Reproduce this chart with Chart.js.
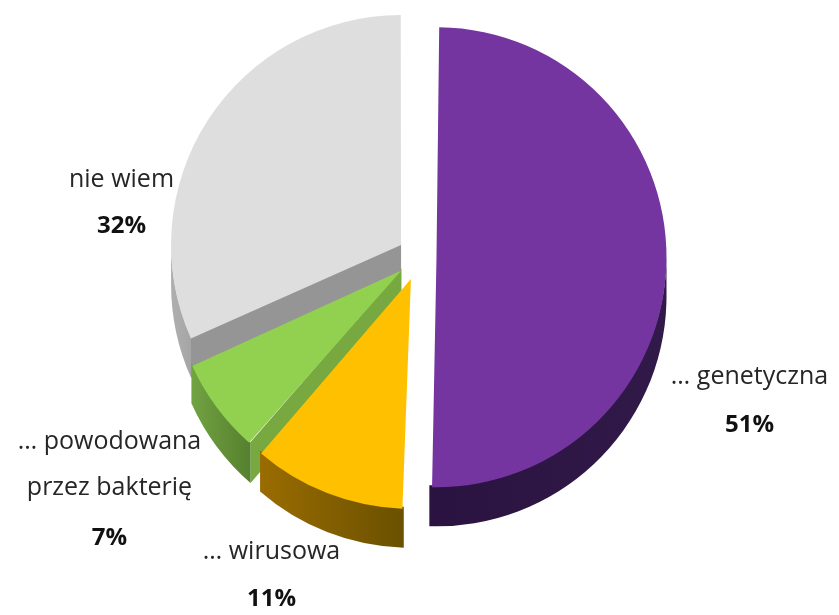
<!DOCTYPE html>
<html lang="pl">
<head>
<meta charset="utf-8">
<title>Przyczyna choroby</title>
<script src="https://cdn.jsdelivr.net/npm/chart.js@4.4.1/dist/chart.umd.min.js"></script>
<style>
  html, body { margin: 0; padding: 0; background: #fff; }
  #wrap { width: 839px; height: 615px; }
</style>
</head>
<body>
<div id="wrap"><canvas id="pie" width="839" height="615"></canvas></div>
<script>
  // ── DANE ──────────────────────────────────────────────
  var KATEGORIE = ['… genetyczna', '… wirusowa', '… powodowana przez bakterię', 'nie wiem'];
  var PODPISY   = [['… genetyczna'], ['… wirusowa'], ['… powodowana', 'przez bakterię'], ['nie wiem']];
  var PROCENTY  = [51, 11, 7, 32];

  // ── WYGLĄD ────────────────────────────────────────────
  var KOLOR_WIERZCH = ['#7535A0', '#FFC000', '#92D050', '#DEDEDE'];
  var KOLOR_CIECIE  = ['#2D1644', '#7A5A00', '#78A840', '#959595'];
  var KOLOR_BOK     = [['#2A1340', '#311949'], ['#9A6C00', '#6A5000'], ['#72A341', '#557F2E'], ['#AFAFAF', '#A5A5A5']];
  var WYSUNIECIE    = [17, 23.5, 22.5, 22];   // px odsunięcia wycinka od środka
  var GLEBOKOSC     = 39;                     // wysokość bryły (px)
  var PROMIEN       = 230;
  var ZAKLADKA      = 2;                      // boki zachodzą pod wierzch, bez jasnych szwów

  // podpisy: dx od środka koła i y kolejnych linii (ostatnia = procent)
  var PODPIS_DX = [330, -148, -310, -298];
  var PODPIS_DY = [[120, 168], [295, 342], [185, 231, 281], [-77, -31]];

  var FONT = "'Open Sans', 'DejaVu Sans', sans-serif";

  // ── BOKI WYCINKÓW (efekt 3D) ──────────────────────────
  function wycinekBok(ctx, cx, cy, R, a0, a1, i) {
    var D = GLEBOKOSC, Z = ZAKLADKA;

    // przekroje zwrócone ku patrzącemu (prawie pionowe pomijamy)
    ctx.fillStyle = KOLOR_CIECIE[i];
    [[a0, -Math.cos(a0)], [a1, Math.cos(a1)]].forEach(function (e) {
      if (e[1] <= 0.08) return;
      var px = cx + Math.cos(e[0]) * R, py = cy + Math.sin(e[0]) * R;
      ctx.beginPath();
      ctx.moveTo(cx, cy - Z);
      ctx.lineTo(px, py - Z);
      ctx.lineTo(px, py + D);
      ctx.lineTo(cx, cy + D);
      ctx.closePath();
      ctx.fill();
    });

    // widoczna część obwodu (dolna połowa)
    var s = a0, e = a1;
    var k = Math.floor(s / (2 * Math.PI));
    s -= k * 2 * Math.PI; e -= k * 2 * Math.PI;
    var segs = [[Math.max(s, 0), Math.min(e, Math.PI)], [Math.max(s, 2 * Math.PI), Math.min(e, 3 * Math.PI)]];
    segs.forEach(function (sg) {
      if (sg[1] - sg[0] <= 0.001) return;
      var x0 = cx + Math.cos(sg[0]) * R, x1 = cx + Math.cos(sg[1]) * R;
      var xmin = Math.min(x0, x1), xmax = Math.max(x0, x1);
      var g = ctx.createLinearGradient(xmin, 0, xmax + 1, 0);
      g.addColorStop(0, KOLOR_BOK[i][0]);
      g.addColorStop(1, KOLOR_BOK[i][1]);
      ctx.fillStyle = g;
      ctx.beginPath();
      ctx.arc(cx, cy - Z, R, sg[0], sg[1]);
      ctx.arc(cx, cy + D, R, sg[1], sg[0], true);
      ctx.closePath();
      ctx.fill();
    });
  }

  var bryla3d = {
    id: 'bryla3d',
    beforeDatasetsDraw: function (chart) {
      var meta = chart.getDatasetMeta(0);
      var ctx = chart.ctx;
      var R = meta.controller.outerRadius || PROMIEN;

      // Chart.js powiększa promień wysuniętych wycinków – cofamy to
      meta.data.forEach(function (arc) {
        var circ = arc.endAngle - arc.startAngle;
        var off = (arc.options.offset || 0) / 4;
        var fix = 1 - Math.sin(Math.min(Math.PI, circ));
        arc.outerRadius = R - off * fix;
      });

      // od tyłu do przodu
      var kolejnosc = meta.data.map(function (a, i) { return i; });
      kolejnosc.sort(function (a, b) {
        var ma = meta.data[a], mb = meta.data[b];
        return Math.sin((ma.startAngle + ma.endAngle) / 2) - Math.sin((mb.startAngle + mb.endAngle) / 2);
      });

      ctx.save();
      kolejnosc.forEach(function (i) {
        var arc = meta.data[i];
        var off = (arc.options.offset || 0) / 4;
        var mid = (arc.startAngle + arc.endAngle) / 2;
        wycinekBok(ctx, arc.x + Math.cos(mid) * off, arc.y + Math.sin(mid) * off,
                   R, arc.startAngle, arc.endAngle, i);
      });
      ctx.restore();
    }
  };

  // ── PODPISY ───────────────────────────────────────────
  var podpisy = {
    id: 'podpisy',
    afterDatasetsDraw: function (chart) {
      var meta = chart.getDatasetMeta(0);
      var ctx = chart.ctx;
      var cx = meta.data[0].x, cy = meta.data[0].y;
      ctx.save();
      ctx.textAlign = 'center';
      ctx.textBaseline = 'middle';
      PODPISY.forEach(function (linie, i) {
        var x = cx + PODPIS_DX[i];
        var dy = PODPIS_DY[i];
        ctx.font = '25px ' + FONT;
        ctx.fillStyle = '#262626';
        linie.forEach(function (txt, j) {
          ctx.fillText(txt, x, cy + dy[j]);
        });
        ctx.font = 'bold 24px ' + FONT;
        ctx.fillStyle = '#111111';
        ctx.fillText(chart.data.datasets[0].data[i] + '%', x, cy + dy[linie.length]);
      });
      ctx.restore();
    }
  };

  new Chart(document.getElementById('pie'), {
    type: 'pie',
    data: {
      labels: KATEGORIE,
      datasets: [{
        data: PROCENTY,
        backgroundColor: KOLOR_WIERZCH,
        borderWidth: 0,
        offset: WYSUNIECIE.map(function (v) { return v * 4; })
      }]
    },
    options: {
      responsive: false,
      animation: false,
      events: [],
      radius: PROMIEN,
      layout: { padding: { left: 0, right: 0, top: 0, bottom: 101 } },
      plugins: {
        legend: { display: false },
        tooltip: { enabled: false }
      }
    },
    plugins: [bryla3d, podpisy]
  });
</script>
</body>
</html>
